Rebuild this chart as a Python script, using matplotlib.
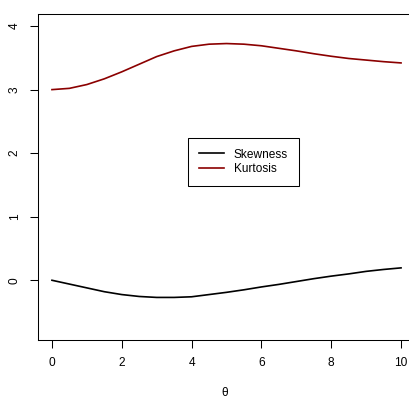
import numpy as np
import matplotlib
matplotlib.use("Agg")
import matplotlib.pyplot as plt

plt.rcParams['font.family'] = ['Liberation Sans', 'DejaVu Sans']

theta = [0.0, 0.5, 1.0, 1.5, 2.0, 2.5, 3.0, 3.5, 4.0, 4.5, 5.0,
         5.5, 6.0, 6.5, 7.0, 7.5, 8.0, 8.5, 9.0, 9.5, 10.0]
skewness = [0.0, -0.06, -0.12, -0.18, -0.225, -0.255, -0.27, -0.27, -0.26, -0.225, -0.19,
            -0.15, -0.105, -0.065, -0.02, 0.025, 0.065, 0.10, 0.14, 0.17, 0.195]
kurtosis = [3.00, 3.02, 3.08, 3.17, 3.28, 3.40, 3.52, 3.61, 3.68, 3.715, 3.725,
            3.715, 3.69, 3.65, 3.61, 3.565, 3.525, 3.49, 3.465, 3.44, 3.42]
xticks = [0, 2, 4, 6, 8, 10]
yticks = [0, 1, 2, 3, 4]

W, H = 409, 399
fig = plt.figure(figsize=(W / 100, H / 100), dpi=100)
# plot region runs a bit past the right edge of the image
ax = fig.add_axes([38 / W, (H - 340) / H, 377 / W, 326 / H])

ax.plot(theta, skewness, color='black', lw=1.2, label='Skewness')
ax.plot(theta, kurtosis, color='#8B0000', lw=1.2, label='Kurtosis')

ax.set_xlim(-0.4, 10.4)
ax.set_ylim(-0.94, 4.19)
ax.set_xticks(xticks)
ax.set_yticks(yticks)
ax.tick_params(direction='out', length=5.5, width=0.75, labelsize=8.6, pad=7)
for lab in ax.get_yticklabels():
    lab.set_rotation(90)
    lab.set_va('center')
for s in ax.spines.values():
    s.set_linewidth(0.75)
ax.set_xlabel('θ', fontsize=8.6, va='center')
ax.xaxis.set_label_coords((225 - 38) / 377, -(393 - 340) / 326)

leg = ax.legend(loc='center', bbox_to_anchor=(243.5 / W, 1 - 162 / H),
                bbox_transform=fig.transFigure, fontsize=8.6, frameon=True,
                fancybox=False, edgecolor='black', framealpha=1,
                handlelength=2.1, handletextpad=0.8, borderpad=0.9,
                labelspacing=0.25, borderaxespad=0)
leg.get_frame().set_linewidth(0.75)

fig.savefig('out.png', dpi=100)
